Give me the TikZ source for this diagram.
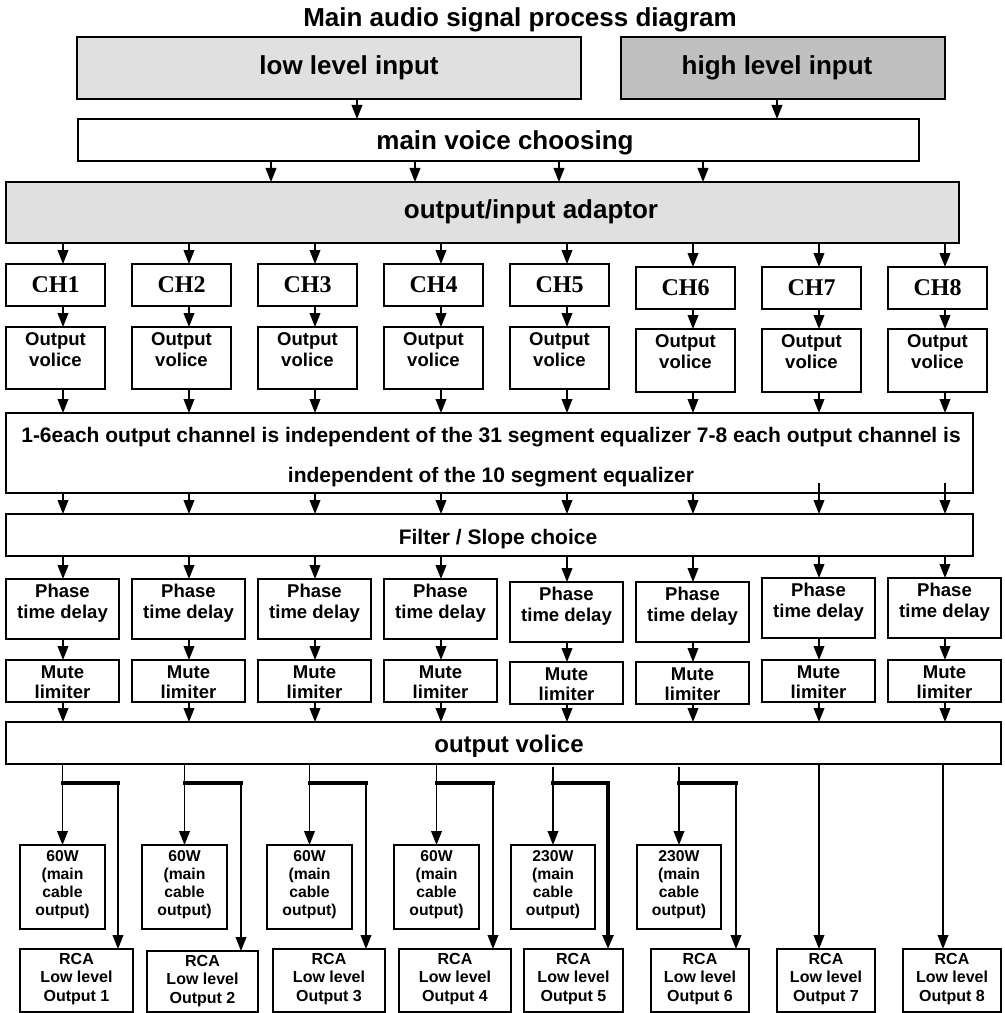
\documentclass[tikz,border=0pt]{standalone}
\usepackage{fontspec}
\setmainfont{Liberation Sans}
\newfontfamily\serifbf{Liberation Serif}
\usetikzlibrary{arrows.meta}
\definecolor{lowgray}{HTML}{E0E0E0}
\definecolor{highgray}{HTML}{C0C0C0}
\newcommand\bx[7]{\node[box,#6,minimum width={0.75pt*((#4)-(#2))},minimum height={0.75pt*((#5)-(#3))}] (#1) at ({((#2)+(#4))/2},{((#3)+(#5))/2}) {#7};}
\begin{document}
\begin{tikzpicture}[x=0.75pt,y=-0.75pt,
  box/.style={draw=black,line width=1.3pt,inner sep=0pt,outer sep=0pt},
  arr/.style={line width=1.3pt,-{Triangle[length=10.5pt,width=8pt]}},
  branch/.style={line width=2.6pt,line cap=rect},
  bigtxt/.style={font=\fontsize{19.5}{23}\selectfont\bfseries,inner sep=0pt,anchor=base},
  midtxt/.style={font=\fontsize{15.75}{30}\selectfont\bfseries,inner sep=0pt,align=center},
  ovtxt/.style={font=\fontsize{18}{21}\selectfont\bfseries,inner sep=0pt,anchor=base},
  smalltxt/.style={font=\fontsize{13.9}{15.75}\selectfont\bfseries,inner sep=0pt,align=center,anchor=north},
  mutetxt/.style={font=\fontsize{13.9}{15}\selectfont\bfseries,inner sep=0pt,align=center,anchor=north},
  tinytxt/.style={font=\fontsize{11.8}{13.5}\selectfont\bfseries,inner sep=0pt,align=center,anchor=north},
  rcatxt/.style={font=\fontsize{12}{13.9}\selectfont\bfseries,inner sep=0pt,align=center,anchor=north},
  chtxt/.style={font=\fontsize{18}{20}\selectfont\serifbf\bfseries}
]
\fill[white] (0,0) rectangle (1005,1013);
\useasboundingbox (0,0) rectangle (1005,1013);

% title and top boxes
\node[bigtxt] (title) at (520,27) {Main audio signal process diagram};
\bx{low}{77}{37}{581}{99}{fill=lowgray}{}
\node[bigtxt] (lowt) at (349,75) {low level input};
\bx{high}{621}{37}{945}{99}{fill=highgray}{}
\node[bigtxt] (hight) at (777,75) {high level input};
\bx{mvc}{78}{119}{919}{161}{}{}
\node[bigtxt] (mvct) at (505,150) {main voice choosing};
\bx{adapt}{6}{182}{959}{243}{fill=lowgray}{}
\node[bigtxt] (adaptt) at (531,219) {output/input adaptor};

\coordinate (a1) at (357,0);
\coordinate (a2) at (777,0);
\draw[arr] (low.south -| a1) -- (mvc.north -| a1);
\draw[arr] (high.south -| a2) -- (mvc.north -| a2);
\foreach \x [count=\n] in {271,415,559,703} {
  \coordinate (m\n) at (\x,0);
  \draw[arr] (mvc.south -| m\n) -- (adapt.north -| m\n);
}

% columns
\foreach \i in {1,...,8} {\coordinate (k\i) at ({63+126*(\i-1)},0);}

% CH boxes
\foreach \i/\yt in {1/264,2/264,3/264,4/264,5/264,6/267,7/267,8/267} {
  \pgfmathsetmacro\cx{63+126*(\i-1)}
  \bx{ch\i}{\cx-57}{\yt}{\cx+42}{\yt+42}{chtxt}{CH\i}
}
% Output volice boxes
\foreach \i/\yt/\yb in {1/327/389,2/327/389,3/327/389,4/327/389,5/327/389,6/329/392,7/329/392,8/329/392} {
  \pgfmathsetmacro\cx{63+126*(\i-1)}
  \bx{ov\i}{\cx-57}{\yt}{\cx+42}{\yb}{}{}
  \node[smalltxt] (ovt\i) at ([yshift=-4pt]ov\i.north) {Output\\volice};
}

% equalizer and filter
\bx{eq}{6}{413}{973}{493}{}{}
\node[midtxt,anchor=north] (eqt) at (491,427.5) {1-6each output channel is independent of the 31 segment equalizer 7-8 each output channel is\\independent of the 10 segment equalizer};
\bx{flt}{6}{514}{973}{556}{}{}
\node[midtxt,anchor=base] (fltt) at (498,544) {Filter / Slope choice};

% Phase boxes
\foreach \i/\yt in {1/579,2/579,3/579,4/579,5/582,6/582,7/578,8/578} {
  \pgfmathsetmacro\cx{63+126*(\i-1)}
  \bx{ph\i}{\cx-57}{\yt}{\cx+56}{\yt+60}{}{}
  \node[smalltxt] (pht\i) at ([yshift=-3.75pt]ph\i.north) {Phase\\time delay};
}
% Mute boxes
\foreach \i/\yt in {1/660,2/660,3/660,4/660,5/662,6/662,7/660,8/660} {
  \pgfmathsetmacro\cx{63+126*(\i-1)}
  \bx{mu\i}{\cx-57}{\yt}{\cx+56}{\yt+42}{}{}
  \node[mutetxt] (mut\i) at ([yshift=-4pt]mu\i.north) {Mute\\limiter};
}

% big output volice
\bx{ovall}{6}{722}{1001}{764}{}{}
\node[ovtxt] (ovallt) at (509,752.5) {output volice};

% arrows between rows
\foreach \i in {1,...,8} {
  \draw[arr] (adapt.south -| k\i) -- (ch\i.north -| k\i);
  \draw[arr] (ch\i.south -| k\i) -- (ov\i.north -| k\i);
  \draw[arr] (ov\i.south -| k\i) -- (eq.north -| k\i);
  \draw[arr] (flt.south -| k\i) -- (ph\i.north -| k\i);
  \draw[arr] (ph\i.south -| k\i) -- (mu\i.north -| k\i);
  \draw[arr] (mu\i.south -| k\i) -- (ovall.north -| k\i);
}
\foreach \i in {1,...,6} {\draw[arr] (eq.south -| k\i) -- (flt.north -| k\i);}
\foreach \i in {7,8} {\draw[arr] ([yshift=7.5pt]eq.south -| k\i) -- (flt.north -| k\i);}

% power output boxes
\foreach \i/\xa/\xb/\wt in {1/20/105/60W,2/142/227/60W,3/267/352/60W,4/394/479/60W,5/511/595/230W,6/637/721/230W} {
  \bx{w\i}{\xa}{845}{\xb}{929}{}{}
  \node[tinytxt] (wt\i) at ([yshift=-3.75pt]w\i.north) {\wt\\(main\\cable\\output)};
}
% RCA boxes
\foreach \i/\xa/\xb/\yt in {1/20/133/949,2/147/258/951,3/273/385/949,4/399/511/949,5/524/623/949,6/651/749/949,7/777/875/949,8/903/1001/949} {
  \bx{r\i}{\xa}{\yt}{\xb}{1012}{}{}
  \node[rcatxt] (rt\i) at ([yshift=-3pt]r\i.north) {RCA\\Low level\\Output \i};
}

% bottom connectors
\foreach \i/\bxx/\lw/\ys in {1/118/1.3/0,2/241/1.3/0,3/366/1.3/0,4/493/1.3/0,5/608/2.6/-2.25,6/736/1.3/-2.25} {
  \coordinate (bj\i) at (\bxx,783);
  \draw[arr] ([yshift=\ys pt]ovall.south -| w\i.north) -- (w\i.north);
  \draw[arr,line width=\lw pt] (bj\i) -- (r\i.north -| bj\i);
  \draw[branch] (bj\i -| w\i.north) -- (bj\i);
}
\coordinate (v7) at (819,0);
\coordinate (v8) at (943,0);
\draw[arr] (ovall.south -| v7) -- (r7.north -| v7);
\draw[arr] (ovall.south -| v8) -- (r8.north -| v8);
\end{tikzpicture}
\end{document}
